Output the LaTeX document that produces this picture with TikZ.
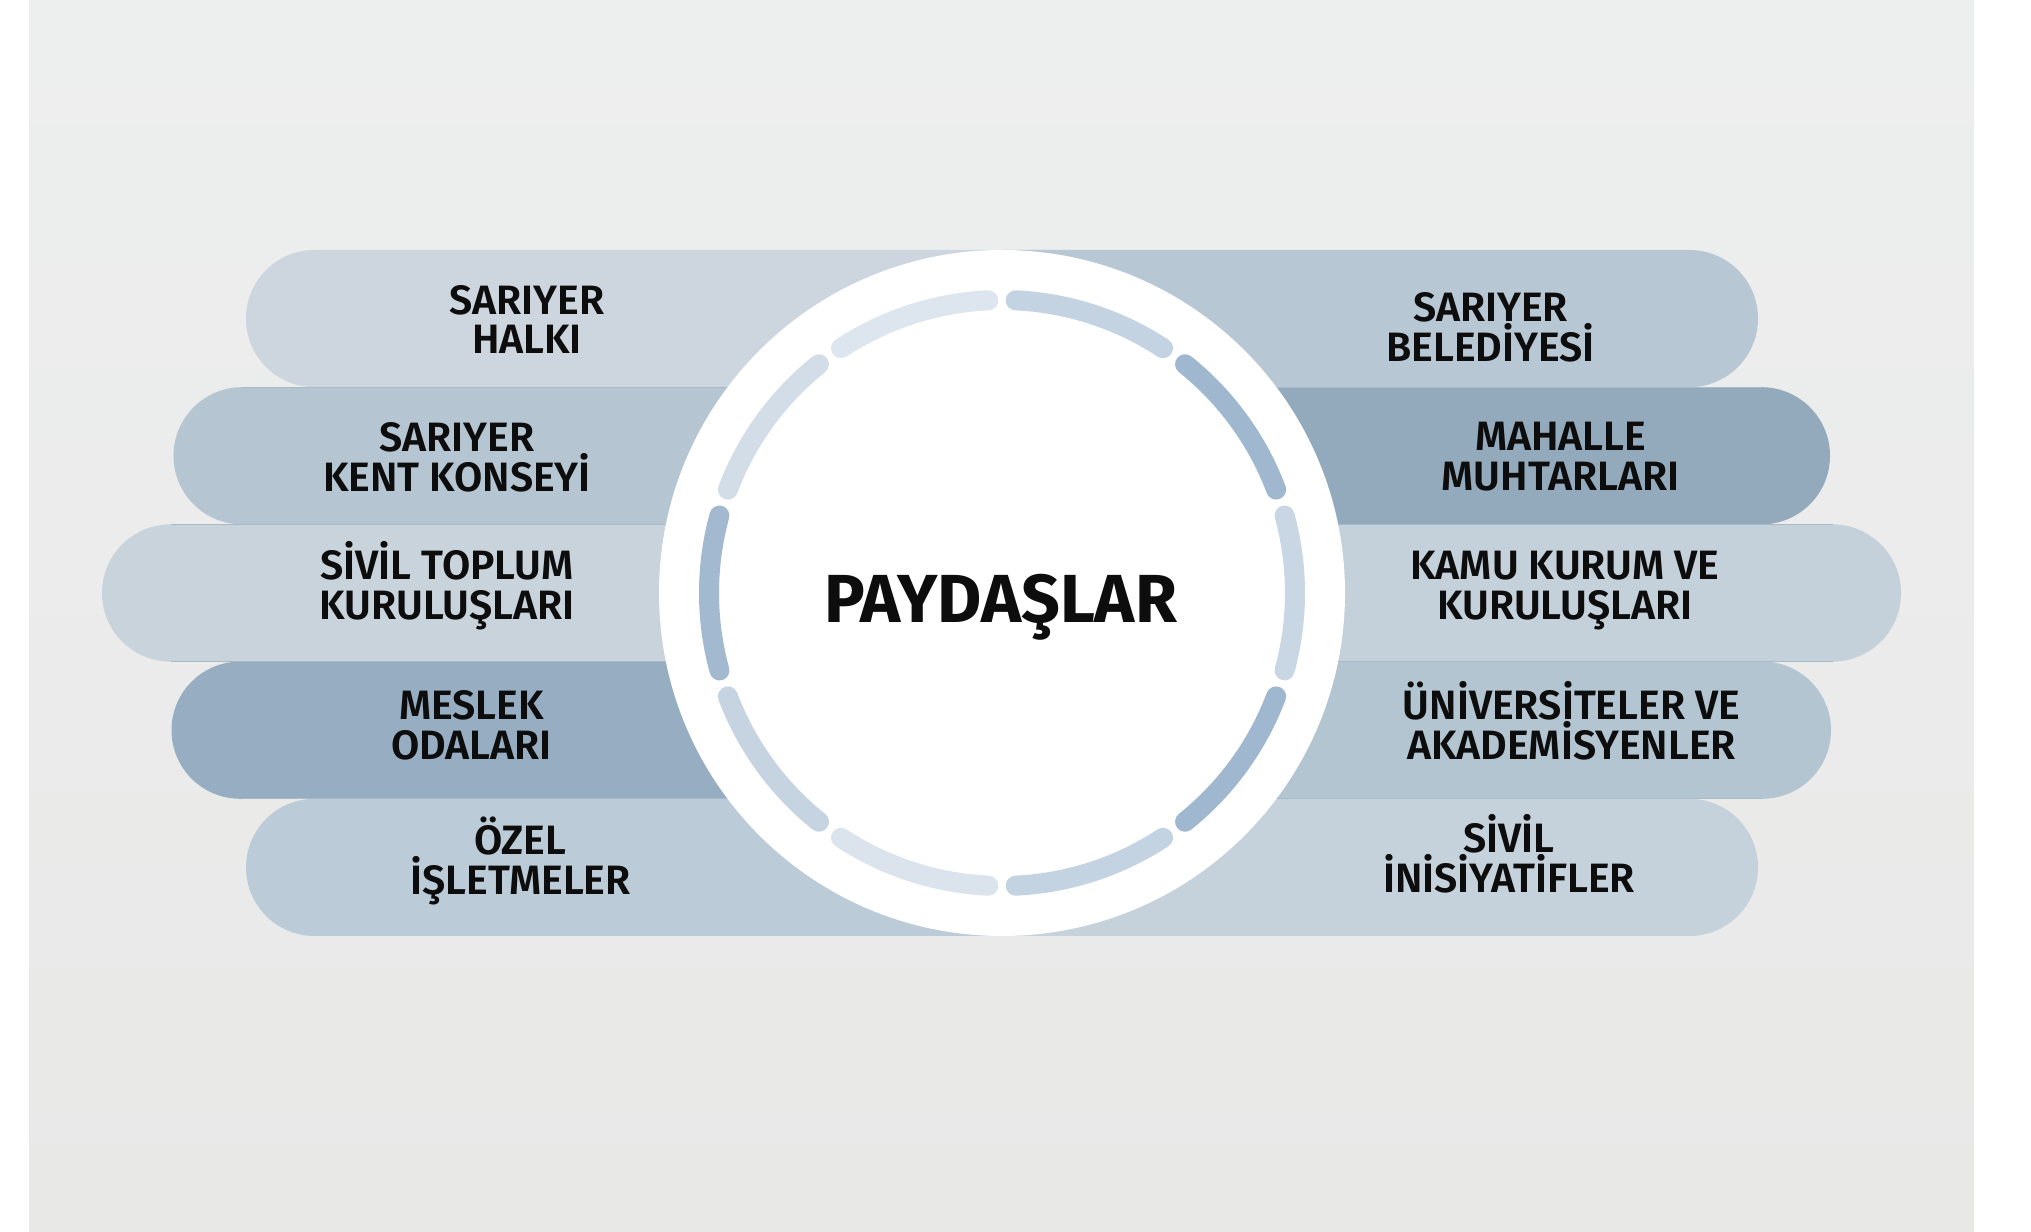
\documentclass[tikz,border=0pt]{standalone}
\usepackage{fontspec}
\setmainfont{Fira Sans}[UprightFont=* SemiBold, BoldFont=* Bold]
\definecolor{bgtop}{HTML}{EDEEEE}
\definecolor{bgbot}{HTML}{E8E9E7}
\definecolor{pLa}{HTML}{CDD6DE}
\definecolor{pLb}{HTML}{B5C6D2}
\definecolor{pLc}{HTML}{C8D3DC}
\definecolor{pLd}{HTML}{96ADC2}
\definecolor{pLe}{HTML}{BCCBD8}
\definecolor{pRa}{HTML}{B8C7D4}
\definecolor{pRb}{HTML}{93A9BC}
\definecolor{pRc}{HTML}{C4D0DA}
\definecolor{pRd}{HTML}{B4C5D2}
\definecolor{pRe}{HTML}{C6D2DB}
\definecolor{seam}{HTML}{A8B9C7}
\definecolor{sgA}{HTML}{C9D6E3}
\definecolor{sgB}{HTML}{A0B8CF}
\definecolor{sgC}{HTML}{C4D3E1}
\definecolor{sgD}{HTML}{DDE5EE}
\definecolor{sgE}{HTML}{D3DDE8}
\definecolor{sgF}{HTML}{A2B9CF}
\definecolor{sgG}{HTML}{C6D3E0}
\definecolor{sgH}{HTML}{DBE3ED}
\definecolor{txt}{HTML}{0D0D0D}
\renewcommand\arraystretch{1}
\newcommand\lefpill[3]{% left x, top y (tikz), colour
  \fill[#3] (1002,#2) -- ({#1+68.6},#2) arc[start angle=90,end angle=270,radius=68.6] -- (1002,{#2-137.2}) -- cycle;}
\newcommand\rigpill[3]{% right x, top y (tikz), colour
  \fill[#3] (1002,#2) -- ({#1-68.6},#2) arc[start angle=90,end angle=-90,radius=68.6] -- (1002,{#2-137.2}) -- cycle;}
\newcommand\twolines[2]{\begin{tabular}[t]{@{}c@{}}\smash{#1}\\\smash{#2}\end{tabular}}
\begin{document}
\begin{tikzpicture}[x=1pt,y=1pt,
  lbl/.style={font=\fontsize{41}{39.5}\selectfont, inner sep=0pt, anchor=base, text=txt},
  seamline/.style={seam, line width=1.2pt},
  ringseg/.style={line width=20pt, line cap=round}]
\useasboundingbox (0,0) rectangle (2031,1231);
\fill[white] (0,0) rectangle (2031,1231);
\shade[top color=bgtop, bottom color=bgbot] (29,0) rectangle (1974,1231);
% left pills
\lefpill{246}{981}{pLa}
\lefpill{173.5}{843.8}{pLb}
\lefpill{102}{706.6}{pLc}
\lefpill{171.5}{569.4}{pLd}
\lefpill{246}{432.2}{pLe}
% right pills
\rigpill{1758}{981}{pRa}
\rigpill{1830}{843.8}{pRb}
\rigpill{1901}{706.6}{pRc}
\rigpill{1831}{569.4}{pRd}
\rigpill{1758}{432.2}{pRe}
% seams between rows
\draw[seamline] (242.1,843.8) -- (1761.9,843.8);
\draw[seamline] (170.6,706.6) -- (1832.9,706.6);
\draw[seamline] (170.6,569.4) -- (1832.9,569.4);
\draw[seamline] (242.1,432.2) -- (1761.9,432.2);
% central circle
\coordinate (c) at (1002,638);
\fill[white] (c) circle (343);
\foreach \a/\col in {0/sgA,36/sgB,72/sgC,108/sgD,144/sgE,180/sgF,216/sgG,252/sgH,288/sgC,324/sgB}{
  \draw[ringseg,\col] ([shift={(\a-15.33:293)}]c) arc[start angle=\a-15.33, end angle=\a+15.33, radius=293];
}
\node[font=\bfseries\fontsize{68}{72}\selectfont, inner sep=0pt, anchor=base, text=txt] (center) at (1000.5,608) {PAYDAŞLAR};
% left labels
\node[lbl] (l1) at (527,916.5) {\twolines{SARIYER}{HALKI}};
\node[lbl] (l2) at (457,779) {\twolines{SARIYER}{KENT KONSEYİ}};
\node[lbl] (l3) at (447,651) {\twolines{SİVİL TOPLUM}{KURULUŞLARI}};
\node[lbl] (l4) at (471.5,511) {\twolines{MESLEK}{ODALARI}};
\node[lbl] (l5) at (520.5,376) {\twolines{ÖZEL}{İŞLETMELER}};
% right labels
\node[lbl] (r1) at (1490.5,909.3) {\twolines{SARIYER}{BELEDİYESİ}};
\node[lbl] (r2) at (1560.5,780) {\twolines{MAHALLE}{MUHTARLARI}};
\node[lbl] (r3) at (1565,651) {\twolines{KAMU KURUM VE}{KURULUŞLARI}};
\node[lbl] (r4) at (1571.5,511) {\twolines{ÜNİVERSİTELER VE}{AKADEMİSYENLER}};
\node[lbl] (r5) at (1509,378) {\twolines{SİVİL}{İNİSİYATİFLER}};
\end{tikzpicture}
\end{document}
